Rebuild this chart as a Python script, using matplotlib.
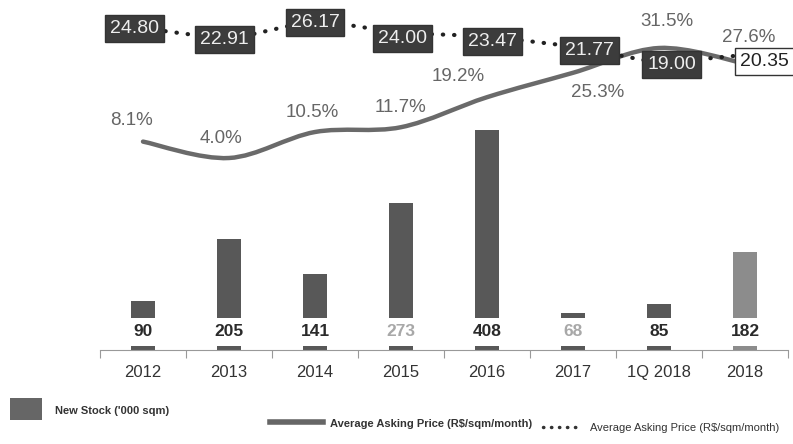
import numpy as np
import matplotlib.pyplot as plt
from matplotlib.path import Path
from matplotlib.patches import PathPatch, Rectangle
from matplotlib.lines import Line2D

periods = ["2012", "2013", "2014", "2015", "2016", "2017", "1Q 2018", "2018"]
new_stock = [90, 205, 141, 273, 408, 68, 85, 182]
vacancy = [8.1, 4.0, 10.5, 11.7, 19.2, 25.3, 31.5, 27.6]
asking_price = [24.80, 22.91, 26.17, 24.00, 23.47, 21.77, 19.00, 20.35]

# bar / label colours per period (last period is a forecast, lighter)
bar_colors = ["#585858"] * 7 + ["#8c8c8c"]
stock_label_colors = ["#2a2a2a", "#2a2a2a", "#2a2a2a", "#a8a8a8", "#2a2a2a", "#a8a8a8", "#2a2a2a", "#2a2a2a"]
# label offsets, in points
pct_offsets = [(-8, 15), (-6, 14), (-2, 14), (0, 14), (-21, 15), (18, -14), (6, 19), (3, 19)]
price_offsets = [(-6, 0), (-3, 0), (0, -2), (1, -4), (4, -4), (12, -3), (9, -1), (14, -5)]

plt.rcParams['font.family'] = ['Liberation Sans', 'DejaVu Sans']

fig = plt.figure(figsize=(7.93, 4.44), dpi=100)
ax = fig.add_axes([100 / 793, 94 / 444, 688 / 793, 350 / 444])
x = np.arange(len(periods))

# new stock bars with value labels masking their base
ax.bar(x, new_stock, width=0.28, color=bar_colors, zorder=2)
for i, v in enumerate(new_stock):
    ax.annotate(str(v), xy=(i, 0), xytext=(0, 13), textcoords='offset points',
                ha='center', va='center', fontsize=12.5, fontweight='bold',
                color=stock_label_colors[i], zorder=3,
                bbox=dict(boxstyle='square,pad=0.35', fc='white', ec='none'))

ax.set_xlim(-0.5, len(periods) - 0.5)
ax.set_ylim(0, 648)
ax.set_xticks(np.arange(len(periods) + 1) - 0.5)
ax.set_xticklabels([])
ax.set_xticks(x, minor=True)
ax.set_xticklabels(periods, minor=True, fontsize=12, color='#333333')
ax.tick_params(axis='x', which='major', length=6, color='#999999', direction='out')
ax.tick_params(axis='x', which='minor', length=0, pad=11)
ax.set_yticks([])
for s in ['top', 'right', 'left']:
    ax.spines[s].set_visible(False)
ax.spines['bottom'].set_color('#999999')

# vacancy curve (smooth)
ax2 = ax.twinx()
ax2.set_ylim(-44, 43.5)
pts = np.column_stack([x, vacancy]).astype(float)
verts = [pts[0]]
codes = [Path.MOVETO]
for i in range(len(pts) - 1):
    p0 = pts[max(i - 1, 0)]
    p1 = pts[i]
    p2 = pts[i + 1]
    p3 = pts[min(i + 2, len(pts) - 1)]
    verts += [p1 + (p2 - p0) / 6, p2 - (p3 - p1) / 6, p2]
    codes += [Path.CURVE4] * 3
ax2.add_patch(PathPatch(Path(verts, codes), fc='none', ec='#6a6a6a', lw=3.2,
                        capstyle='round', zorder=4))
for i, v in enumerate(vacancy):
    ax2.annotate(f"{v:.1f}%", xy=(i, v), xytext=pct_offsets[i], textcoords='offset points',
                 ha='center', va='center', fontsize=13.5, color='#666666')
ax2.axis('off')

# asking price dotted line with boxed labels
ax3 = ax.twinx()
ax3.set_ylim(-28.8, 29.5)
ax3.plot(x, asking_price, color='#222222', lw=3, linestyle=(0, (0.1, 2.6)),
         dash_capstyle='round', zorder=5)
for i, v in enumerate(asking_price):
    last = i == len(asking_price) - 1
    ax3.annotate(f"{v:.2f}", xy=(i, v), xytext=price_offsets[i], textcoords='offset points',
                 ha='center', va='center', fontsize=14,
                 color='#222222' if last else '#eeeeee', zorder=6,
                 bbox=dict(boxstyle='square,pad=0.26', fc='white' if last else '#3c3c3c',
                           ec='#333333', lw=1))
ax3.axis('off')

# legend along the bottom
legend_font = ['Liberation Sans Narrow', 'Liberation Sans', 'DejaVu Sans']
fig.add_artist(Rectangle((10 / 793, 1 - 420 / 444), 32 / 793, 22 / 444,
                         transform=fig.transFigure, fc='#666666', ec='none'))
fig.text(55 / 793, 1 - 411 / 444, "New Stock ('000 sqm)", fontsize=8, fontweight='bold',
         color='#333333', va='center', family=legend_font)
fig.add_artist(Line2D([270 / 793, 323 / 793], [1 - 422 / 444] * 2,
                      transform=fig.transFigure, color='#666666', lw=4))
fig.text(330 / 793, 1 - 424 / 444, r"Average Asking Price (R\$/sqm/month)", fontsize=8,
         fontweight='bold', color='#333333', va='center', family=legend_font)
fig.add_artist(Line2D([543 / 793, 580 / 793], [1 - 427 / 444] * 2,
                      transform=fig.transFigure, color='#333333', lw=2.5,
                      linestyle=(0, (0.1, 2.2)), dash_capstyle='round'))
fig.text(590 / 793, 1 - 428 / 444, r"Average Asking Price (R\$/sqm/month)", fontsize=8,
         color='#333333', va='center', family=legend_font)

fig.savefig("out.png", dpi=100)
